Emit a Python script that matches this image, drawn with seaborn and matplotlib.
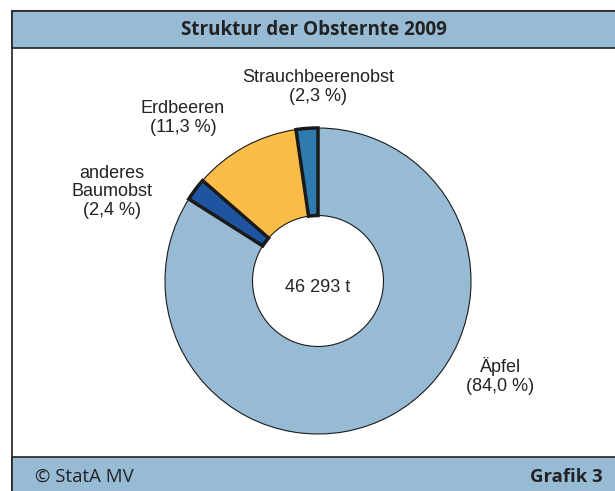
import numpy as np
import seaborn as sns
import matplotlib.pyplot as plt
from matplotlib.patches import Rectangle

# data
labels = ["Äpfel", "anderes\nBaumobst", "Erdbeeren", "Strauchbeerenobst"]
shares = [84.0, 2.4, 11.3, 2.3]
share_text = ["(84,0 %)", "(2,4 %)", "(11,3 %)", "(2,3 %)"]
colors = ["#97bbd5", "#1f55a0", "#fbbd48", "#2e7bb0"]
edge_widths = [0.8, 2.5, 0.8, 2.5]
total_text = "46 293 t"
title = "Struktur der Obsternte 2009"
footer_left = "© StatA MV"
footer_right = "Grafik 3"

sns.set_theme(style="white")
plt.rcParams['font.family'] = ['Liberation Sans', 'DejaVu Sans']

W, H = 615, 491
fig = plt.figure(figsize=(W / 100, H / 100), dpi=100)
band = "#97bbd5"

def px(x, y):
    return x / W, 1 - y / H

# frame, header and footer bands
fig.patches.append(Rectangle(px(12, 491), 1, (491 - 11) / H,
                             transform=fig.transFigure, facecolor="white",
                             edgecolor="#222222", lw=1.2))
fig.patches.append(Rectangle(px(12, 48), 1, 37 / H, transform=fig.transFigure,
                             facecolor=band, edgecolor="#222222", lw=1.2))
fig.patches.append(Rectangle(px(12, 495), 1, 38 / H, transform=fig.transFigure,
                             facecolor=band, edgecolor="#222222", lw=1.2))
head_font = ["Open Sans", "DejaVu Sans"]
fig.text(*px(314, 30), title, ha="center", va="center", fontsize=13.6,
         fontweight="bold", family=head_font, color="#222222")
fig.text(*px(35, 477), footer_left, ha="left", va="center", fontsize=13.4,
         family=head_font, color="#222222")
fig.text(*px(603, 477), footer_right, ha="right", va="center", fontsize=13.3,
         fontweight="bold", family=head_font, color="#222222")

# donut
cx, cy, r = 318, 281, 153
ax = fig.add_axes([(cx - r) / W, (H - cy - r) / H, 2 * r / W, 2 * r / H])
ax.set_zorder(5)
ax.patch.set_visible(False)
wedges, _ = ax.pie(shares, colors=colors, startangle=90, counterclock=False,
                   radius=1, wedgeprops=dict(width=0.572, edgecolor="#1a1a1a"))
for w, lw in zip(wedges, edge_widths):
    w.set_linewidth(lw)
    w.set_zorder(3 if lw > 1 else 2)
ax.set_xlim(-1, 1)
ax.set_ylim(-1, 1)
ax.set_aspect("auto")
ax.axis("off")

def dc(x, y):
    return (x - cx) / r, (cy - y) / r

fs = 13
ax.text(*dc(318, 287), total_text, ha="center", va="center", fontsize=fs)
label_pos = [(500, 376), (112, 192), (183, 118), (318, 87)]
for lab, st, (x, y) in zip(labels, share_text, label_pos):
    ax.text(*dc(x, y), lab + "\n" + st, ha="center", va="center", fontsize=fs,
            linespacing=1.1, clip_on=False, color="#222222")

fig.savefig("out.png", dpi=100)
